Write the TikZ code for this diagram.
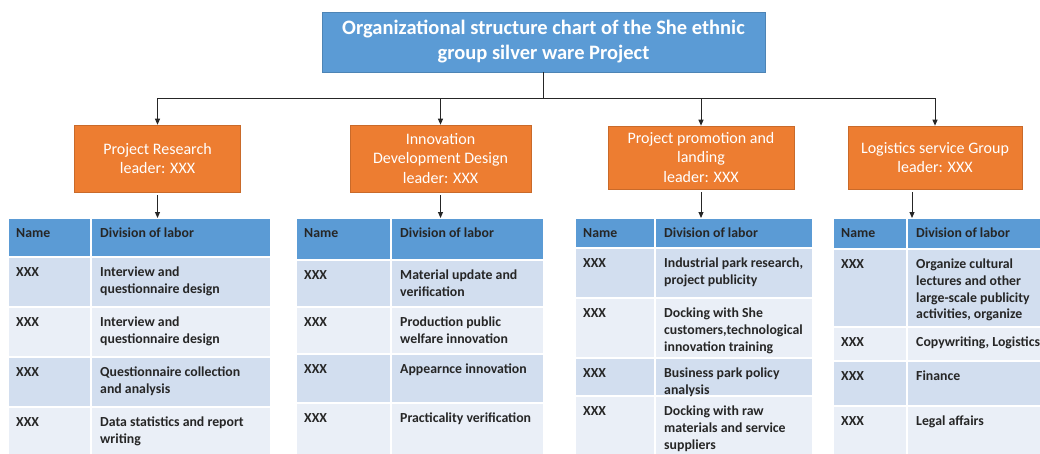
\documentclass[tikz,border=0pt]{standalone}
\usepackage{fontspec}
\setmainfont{Carlito}
\usetikzlibrary{arrows.meta, positioning, backgrounds}

\definecolor{hdblue}{HTML}{5B9BD5}
\definecolor{leadorange}{HTML}{ED7D31}
\definecolor{rowA}{HTML}{D2DEEF}
\definecolor{rowB}{HTML}{EAEFF7}

% one row of a labour table: name, xl, xm, xr, ytop, ybot, fill, name text, labour text
\newcommand{\labrow}[9]{%
  \begin{pgfonlayer}{background}
  \fill[#7] (#2,#5) rectangle (#4,#6);
  \draw[white, line width=1.5pt] (#2,#5) rectangle (#4,#6) (#3,#5) -- (#3,#6);
  \end{pgfonlayer}
  \node[cell] (#1n) at (#2+8,#5+8) {\rule{0pt}{11.5pt}#8};
  \node[cell] (#1d) at (#3+9,#5+8) {\rule{0pt}{11.5pt}#9};
}

\begin{document}
\begin{tikzpicture}[x=1pt,y=-1pt,
  title/.style={draw=hdblue!85!black, fill=hdblue, text=white, line width=0.6pt,
    font=\fontsize{20.5}{25}\selectfont\bfseries, align=center,
    minimum width=443pt, minimum height=60pt},
  leader/.style={draw=leadorange!85!black, fill=leadorange, text=white, line width=0.6pt,
    font=\fontsize{16}{19.5}\selectfont, align=center},
  cell/.style={anchor=north west, inner sep=0pt, text=black!85, align=left,
    font=\fontsize{13.8}{16.7}\selectfont\bfseries},
  line/.style={line width=1pt, black!85},
  link/.style={line, -{Triangle[length=6pt,width=5pt]}}
]
\useasboundingbox (0,0) rectangle (1040,453);
\clip (0,0) rectangle (1040,453);

% top of the chart
\node[title] (title) at (543.5,42) {Organizational structure chart of the She ethnic\\group silver ware Project};
\coordinate (bus) at (543.5,98);

% group leaders
\node[leader, minimum width=166pt, minimum height=67pt] (l1) at (157.5,158.5) {Project Research\\leader: XXX};
\node[leader, minimum width=181pt, minimum height=67pt] (l2) at (440.5,158.5) {Innovation\\Development Design\\leader: XXX};
\node[leader, minimum width=186pt, minimum height=63pt] (l3) at (701,157.5) {Project promotion and\\landing\\leader: XXX};
\node[leader, minimum width=174pt, minimum height=63pt] (l4) at (935,157.5) {Logistics service Group\\leader: XXX};

\draw[line] (title.south) -- (bus);
\draw[link] (bus) -| (l1.north);
\draw[link] (bus) -| (l2.north);
\draw[link] (bus) -| (l3.north);
\draw[link] (bus) -| (l4.north);

% tables
\coordinate (t1) at (8,218);
\coordinate (t2) at (296,218);
\coordinate (t3) at (575,218);
\coordinate (t4) at (833,218);

\labrow{t1h}{8}{91}{271}{218}{257}{hdblue}{Name}{Division of labor}
\labrow{t1a}{8}{91}{271}{257}{307}{rowA}{XXX}{Interview and\\questionnaire design}
\labrow{t1b}{8}{91}{271}{307}{357}{rowB}{XXX}{Interview and\\questionnaire design}
\labrow{t1c}{8}{91}{271}{357}{407}{rowA}{XXX}{Questionnaire collection\\and analysis}
\labrow{t1d}{8}{91}{271}{407}{465}{rowB}{XXX}{Data statistics and report\\writing}

\labrow{t2h}{296}{391}{544}{218}{260}{hdblue}{Name}{Division of labor}
\labrow{t2a}{296}{391}{544}{260}{307}{rowA}{XXX}{Material update and\\verification}
\labrow{t2b}{296}{391}{544}{307}{354}{rowB}{XXX}{Production public\\welfare innovation}
\labrow{t2c}{296}{391}{544}{354}{403}{rowA}{XXX}{Appearnce innovation}
\labrow{t2d}{296}{391}{544}{403}{465}{rowB}{XXX}{Practicality verification}

\labrow{t3h}{575}{655}{813}{218}{248}{hdblue}{Name}{Division of labor}
\labrow{t3a}{575}{655}{813}{248}{298}{rowA}{XXX}{Industrial park research,\\project publicity}
\labrow{t3b}{575}{655}{813}{298}{358}{rowB}{XXX}{Docking with She\\customers,technological\\innovation training}
\labrow{t3c}{575}{655}{813}{358}{396}{rowA}{XXX}{Business park policy\\analysis}
\labrow{t3d}{575}{655}{813}{396}{465}{rowB}{XXX}{Docking with raw\\materials and service\\suppliers}

\labrow{t4h}{833}{907}{1041}{218}{249}{hdblue}{Name}{Division of labor}
\labrow{t4a}{833}{907}{1041}{249}{327}{rowA}{XXX}{Organize cultural\\lectures and other\\large-scale publicity\\activities, organize}
\labrow{t4b}{833}{907}{1041}{327}{361}{rowB}{XXX}{Copywriting, Logistics}
\labrow{t4c}{833}{907}{1041}{361}{406}{rowA}{XXX}{Finance}
\labrow{t4d}{833}{907}{1041}{406}{465}{rowB}{XXX}{Legal affairs}

% leaders down to their tables
\draw[link] ([yshift=-3pt]l1.south) -- (l1.south |- t1);
\draw[link] ([yshift=-3pt]l2.south) -- (l2.south |- t2);
\draw[link] ([yshift=-3pt]l3.south) -- (l3.south |- t3);
\draw[link] ([xshift=-23pt,yshift=-3pt]l4.south) -- ([xshift=-23pt]l4.south |- t4);
\end{tikzpicture}
\end{document}
